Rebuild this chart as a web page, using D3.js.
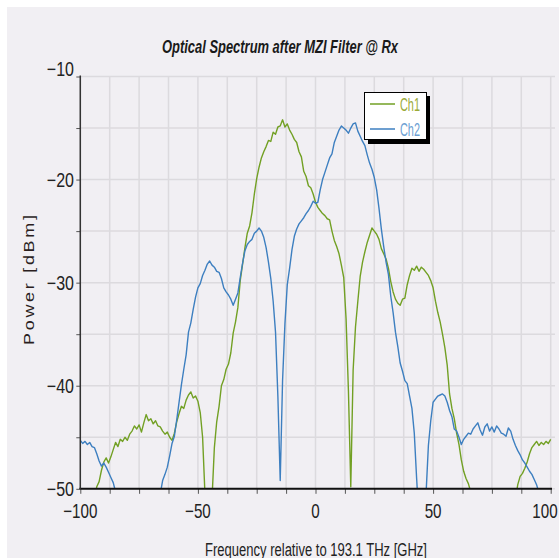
<!DOCTYPE html>
<html><head><meta charset="utf-8">
<script src="https://cdn.jsdelivr.net/npm/d3@7"></script>
<style>
html,body{margin:0;padding:0;background:#fff;}
svg{display:block;}
text{font-family:"Liberation Sans",Arial,sans-serif;}
</style></head>
<body><svg id="c" width="559" height="558"></svg>
<script>
// ---------- data ----------
const title = "Optical Spectrum after MZI Filter @ Rx";
const xLabel = "Frequency relative to 193.1 THz [GHz]";
const yLabel = "Power [dBm]";
const seriesNames = ["Ch1", "Ch2"];
const xTickValues = [-100, -50, 0, 50, 100];
const yTickValues = [-50, -40, -30, -20, -10];
const freqStart = -100, freqStep = 1; // GHz, one value per step
const ch1 = [
 -53,-53,-53,-53,-53,-53,-51,-49.8,-49.3,-48.2,
 -47.4,-47.0,-47.5,-46.9,-46.2,-45.5,-45.9,-45.2,-45.4,-45.0,
 -45.3,-44.7,-44.4,-43.9,-44.2,-43.8,-44.5,-43.6,-42.8,-43.4,
 -43.2,-43.7,-43.4,-43.9,-44.0,-44.4,-44.7,-44.5,-45.0,-45.3,
 -44.6,-43.5,-42.7,-42.0,-42.2,-41.4,-40.9,-40.6,-41.2,-41.0,
 -41.5,-42.6,-45.0,-50.5,-53,-53,-51,-46.0,-43.5,-42.0,
 -40.0,-39.4,-38.4,-37.9,-36.8,-34.9,-33.8,-32.4,-29.8,-28.2,
 -26.6,-25.2,-24.5,-23.2,-21.4,-19.9,-18.8,-17.9,-17.3,-16.8,
 -16.2,-16.3,-15.4,-15.6,-14.9,-14.8,-14.2,-14.9,-14.6,-15.2,
 -15.6,-16.1,-16.4,-17.3,-17.8,-19.2,-19.7,-20.6,-20.8,-21.4,
 -22.2,-22.7,-23.0,-23.3,-23.5,-23.8,-23.9,-25.0,-25.9,-26.5,
 -27.2,-28.3,-29.5,-33.5,-40.5,-49.8,-38.5,-34.3,-31.8,-29.4,
 -28.0,-27.0,-26.1,-25.4,-24.7,-25.0,-25.3,-25.8,-26.7,-27.2,
 -27.7,-28.6,-29.9,-30.9,-31.6,-32.0,-32.2,-31.6,-31.5,-30.2,
 -29.3,-28.6,-28.8,-28.4,-28.9,-28.5,-28.7,-29.0,-29.3,-29.8,
 -30.5,-31.8,-32.9,-33.8,-35.0,-36.3,-38.0,-40.8,-42.2,-43.2,
 -44.6,-45.7,-47.2,-48.3,-49.0,-49.5,-50.3,-53,-53,-53,
 -53,-53,-53,-53,-53,-53,-53,-53,-53,-53,
 -53,-53,-53,-53,-53,-51,-49.6,-48.8,-48.5,-48.0,
 -47.4,-46.6,-46.0,-45.7,-45.4,-45.8,-45.5,-45.7,-45.4,-45.6,-45.2
];
const ch2 = [
 -45.3,-45.6,-45.4,-45.7,-45.5,-45.9,-46.0,-46.6,-47.3,-47.8,
 -47.5,-47.9,-48.4,-48.9,-49.4,-50.3,-53,-53,-53,-53,
 -53,-53,-53,-53,-53,-53,-53,-53,-53,-53,
 -53,-53,-53,-53,-50.5,-49.2,-48.6,-47.9,-46.8,-45.6,
 -44.9,-43.3,-41.6,-39.9,-38.4,-37.0,-34.8,-33.9,-32.6,-31.4,
 -30.5,-30.1,-29.3,-28.8,-28.2,-27.9,-28.3,-28.5,-28.9,-29.0,
 -29.6,-30.5,-30.9,-31.2,-31.6,-32.2,-31.6,-31.0,-29.5,-28.1,
 -26.9,-26.3,-26.0,-25.8,-25.2,-25.0,-24.7,-25.0,-25.6,-26.6,
 -28.0,-29.6,-31.8,-34.8,-41.0,-49.2,-39.5,-34.0,-30.2,-28.6,
 -26.8,-25.5,-24.8,-24.3,-24.0,-23.7,-23.3,-23.0,-22.6,-22.1,
 -22.3,-22.2,-21.0,-20.0,-19.3,-18.6,-17.9,-17.5,-16.4,-15.8,
 -15.2,-14.8,-15.0,-15.2,-15.5,-15.0,-14.6,-14.5,-15.3,-15.8,
 -16.3,-16.7,-17.6,-18.4,-19.0,-19.8,-21.0,-22.8,-24.8,-26.5,
 -28.0,-29.2,-31.3,-32.9,-34.8,-36.2,-37.8,-38.6,-39.5,-39.8,
 -41.0,-42.2,-44.6,-49.0,-53,-53,-53,-50.5,-45.8,-43.4,
 -41.6,-41.3,-41.0,-40.9,-40.8,-41.0,-41.6,-42.4,-43.0,-44.2,
 -44.4,-45.0,-45.7,-45.2,-44.9,-44.6,-44.7,-44.2,-43.9,-43.6,
 -44.3,-44.8,-44.0,-43.7,-44.4,-44.0,-44.5,-43.9,-44.2,-44.6,
 -44.7,-44.9,-44.1,-44.4,-45.2,-45.8,-46.3,-46.7,-47.2,-47.5,
 -47.9,-48.3,-48.6,-49.1,-49.6,-50.4,-53,-53,-53,-53,-53
];
const colors = ["#72a024", "#3d7fc0"];
const legendTextColors = ["#9aaa38", "#6c9fd3"];

// ---------- layout ----------
const W = 559, H = 558;
const L = 80.3, R = 550.7, T = 76.5, B = 488.8;
const svg = d3.select("#c");
const x = d3.scaleLinear().domain([-100, 100]).range([L, R]);
const y = d3.scaleLinear().domain([-50, -10]).range([B, T]);

svg.append("rect").attr("width", W).attr("height", H).attr("fill", "#ffffff");
svg.append("rect").attr("x", 7).attr("y", 7).attr("width", W - 7).attr("height", H - 7).attr("fill", "#f1eff3");

// grid
const xMinor = d3.range(-100, 100.01, 12.5);
const yMinor = d3.range(-50, -9.99, 5);
svg.append("g").selectAll("line").data(xMinor).join("line")
  .attr("x1", d => x(d)).attr("x2", d => x(d)).attr("y1", T).attr("y2", B)
  .attr("stroke", "#dcdade").attr("stroke-width", 1.5);
svg.append("g").selectAll("line").data(yMinor).join("line")
  .attr("x1", L).attr("x2", 555).attr("y1", d => y(d)).attr("y2", d => y(d))
  .attr("stroke", "#dcdade").attr("stroke-width", 1.5);

// lines
svg.append("defs").append("clipPath").attr("id", "clip")
  .append("rect").attr("x", L).attr("y", T - 2).attr("width", R - L + 2).attr("height", B - T + 2);
const line = d3.line().x((d, i) => x(freqStart + i * freqStep)).y(d => y(d));
[ch1, ch2].forEach((s, k) => {
  svg.append("path").datum(s).attr("d", line).attr("fill", "none")
    .attr("stroke", colors[k]).attr("stroke-width", 1.4).attr("stroke-linejoin", "round")
    .attr("clip-path", "url(#clip)");
});

// axes
const xAxis = d3.axisBottom(x).tickValues(xMinor).tickSize(5).tickFormat("");
const gx = svg.append("g").attr("transform", `translate(0,${B})`).call(xAxis);
gx.select(".domain").remove();
gx.selectAll(".tick line").attr("stroke", "#555");
svg.append("line").attr("x1", L - 1).attr("x2", 552).attr("y1", B).attr("y2", B)
  .attr("stroke", "#111").attr("stroke-width", 2);

const yAxis = d3.axisLeft(y).tickValues(yMinor).tickSize(4).tickFormat("");
const gy = svg.append("g").attr("transform", `translate(${L},0)`).call(yAxis);
gy.select(".domain").remove();
gy.selectAll(".tick line").attr("stroke", "#555");
svg.append("line").attr("x1", L).attr("x2", L).attr("y1", T - 1).attr("y2", B)
  .attr("stroke", "#333").attr("stroke-width", 1.5);

const fmt = v => (v < 0 ? "\u2212" + Math.abs(v) : String(v));
// x tick labels
svg.append("g").selectAll("text").data(xTickValues).join("text")
  .attr("transform", d => `translate(${Math.min(x(d), 545)},518) scale(0.76,1)`)
  .attr("text-anchor", "middle").attr("font-size", 20).attr("fill", "#222")
  .text(fmt);
// y tick labels
svg.append("g").selectAll("text").data(yTickValues).join("text")
  .attr("transform", d => `translate(74,${y(d) + (d === -10 ? -1 : 7)}) scale(0.8,1)`)
  .attr("text-anchor", "end").attr("font-size", 20).attr("fill", "#222")
  .text(fmt);

// titles
svg.append("text").attr("x", 280).attr("y", 53).attr("text-anchor", "middle")
  .attr("font-size", 19).attr("font-style", "italic").attr("font-weight", "bold")
  .attr("fill", "#1a1a1a").attr("textLength", 236).attr("lengthAdjust", "spacingAndGlyphs")
  .text(title);
svg.append("text").attr("x", 316).attr("y", 556).attr("text-anchor", "middle")
  .attr("font-size", 18).attr("fill", "#222")
  .attr("textLength", 222).attr("lengthAdjust", "spacingAndGlyphs")
  .text(xLabel);
svg.append("text").attr("transform", "translate(34,280) scale(0.8,1) rotate(-90)")
  .attr("text-anchor", "middle").attr("font-size", 18).attr("fill", "#2a1e1e")
  .attr("textLength", 130).attr("lengthAdjust", "spacing")
  .text(yLabel);

// legend
const lg = svg.append("g");
lg.append("rect").attr("x", 368).attr("y", 96).attr("width", 62).attr("height", 48).attr("fill", "#000");
lg.append("rect").attr("x", 364.5).attr("y", 92.5).attr("width", 62).attr("height", 47)
  .attr("fill", "#fff").attr("stroke", "#000").attr("stroke-width", 1);
seriesNames.forEach((n, k) => {
  const yy = 104 + k * 25;
  lg.append("line").attr("x1", 370).attr("x2", 395).attr("y1", yy).attr("y2", yy)
    .attr("stroke", colors[k]).attr("stroke-width", 1.5);
  lg.append("text").attr("x", 400).attr("y", yy + 7).attr("font-size", 18)
    .attr("fill", legendTextColors[k]).attr("textLength", 20).attr("lengthAdjust", "spacingAndGlyphs")
    .text(n);
});
</script></body></html>
